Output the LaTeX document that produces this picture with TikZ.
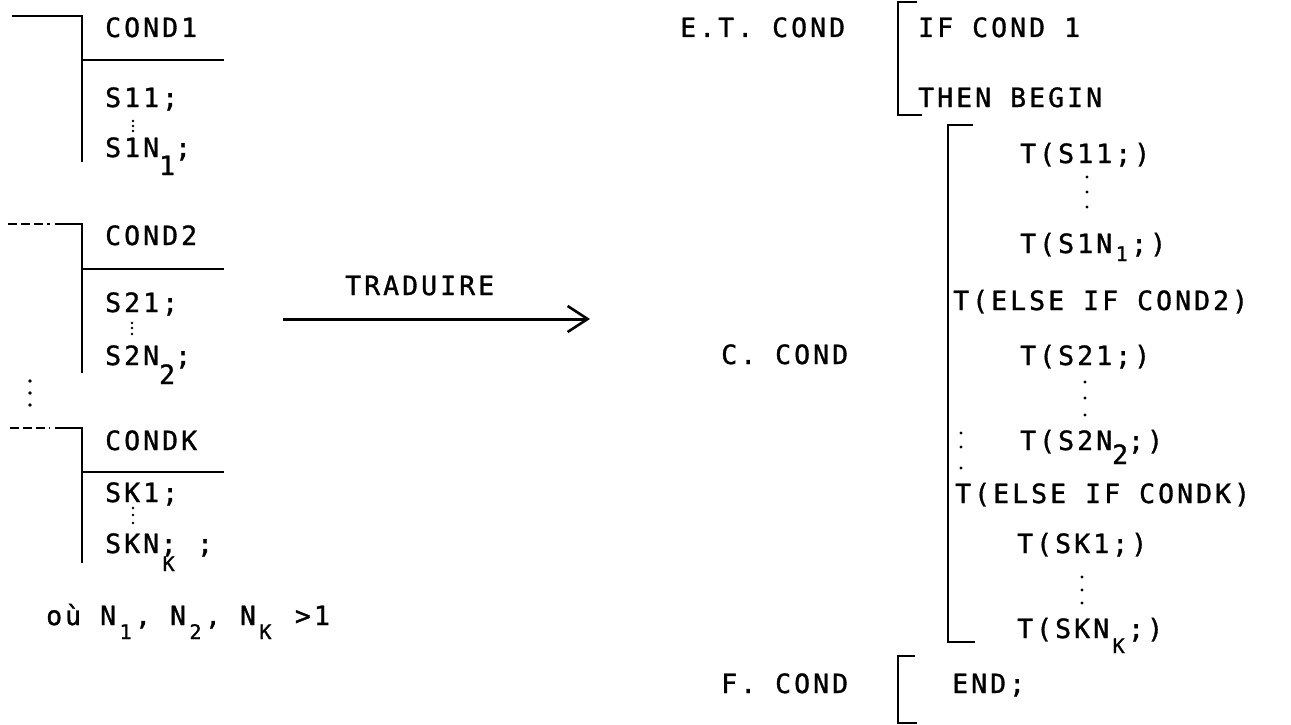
\documentclass[tikz,border=0pt]{standalone}
\usepackage{fontspec}
\setmonofont[LetterSpace=11.5,FakeBold=1.2]{DejaVu Sans Mono}
\usetikzlibrary{arrows.meta}
\newcommand\tw{\fontsize{26.5}{30}\selectfont\ttfamily}
\newcommand\twsmall{\fontsize{20}{24}\selectfont\ttfamily}
% typewriter-style lowered index, full size or reduced
\newcommand\lowsub[2]{\raisebox{-#1pt}{#2}}
\newcommand\lowsubsm[2]{\raisebox{-#1pt}{\twsmall #2}}
% reduced index that still fills one typewriter cell
\newcommand\cellsub[2]{\makebox[19pt][c]{\lowsubsm{#1}{#2}}}

\begin{document}
\begin{tikzpicture}[x=1pt,y=-1pt,
  txt/.style={anchor=base west,inner sep=0pt,font=\tw},
  rule/.style={line width=2.8pt},
  dashrule/.style={line width=2.8pt,dash pattern=on 9pt off 4pt},
  vdot/.style={fill=black},
  conn/.style={line width=3pt,-{Straight Barb[length=20pt,width=26pt,line width=2.6pt]}}]
\fill[white] (0,0) rectangle (1291,725);
\useasboundingbox (0,0) rectangle (1291,725);

% ---- left: nested condition blocks ----
% block 1
\draw[rule] (12,16) -- (82,16) -- (82,162);
\draw[rule] (82,60) -- (224,60);
\node[txt] (cond1) at (105,37) {COND1};
\node[txt] (s11) at (105,107) {S11;};
\node[txt] (s1n) at (105,157) {S1N\lowsub{18}{1};};
\foreach \yy in {121,126,131} \fill[vdot] (133,\yy) circle (1.4pt);

% block 2
\draw[dashrule] (8,224) -- (50,224);
\draw[rule] (55,224) -- (82,224) -- (82,373);
\draw[rule] (82,269) -- (224,269);
\node[txt] (cond2) at (105,245) {COND2};
\node[txt] (s21) at (105,312) {S21;};
\node[txt] (s2n) at (105,365) {S2N\lowsub{19}{2};};
\foreach \yy in {323,328,334} \fill[vdot] (132,\yy) circle (1.4pt);

% continuation between blocks
\foreach \yy in {381,393,405} \fill[vdot] (30,\yy) circle (1.8pt);

% block K
\draw[dashrule] (10,428) -- (50,428);
\draw[rule] (55,428) -- (82,428) -- (82,563);
\draw[rule] (82,472) -- (224,472);
\node[txt] (condk) at (105,450) {CONDK};
\node[txt] (sk1) at (105,502) {SK1;};
\node[txt] (skn) at (105,553) {SKN\rlap{\makebox[19pt][c]{;}}\makebox[19pt][c]{\lowsubsm{18}{K}}\ ;};
\foreach \yy in {508,515,523} \fill[vdot] (133,\yy) circle (1.4pt);

\node[txt] (where) at (46,625) {où N\cellsub{14}{1}, N\cellsub{14}{2}, N\cellsub{14}{K}\hspace{20pt}>1};

% ---- translation arrow ----
\coordinate (arrS) at (283,319);
\coordinate (arrE) at (590,319);
\draw[conn] (arrS) -- (arrE);
\node[txt] (trad) at (345,295) {TRADUIRE};

% ---- right: translated code ----
\node[txt] (et) at (680,37) {E.T. COND};
\draw[rule] (917,2) -- (898,2) -- (898,115) -- (922,115);
\node[txt] (if1) at (918,37) {IF COND 1};
\node[txt] (then) at (918,107) {THEN BEGIN};

\node[txt] (ccond) at (721,364) {C. COND};
\draw[rule] (973,125) -- (948,125) -- (948,642) -- (975,642);
\node[txt] (ts11) at (1020,163) {T(S11;)};
\foreach \yy in {177,192,207} \fill[vdot] (1087,\yy) circle (1.7pt);
\node[txt] (ts1n) at (1020,253) {T(S1N\cellsub{8}{1};)};
\node[txt] (else2) at (953,310) {T(ELSE IF COND2)};
\node[txt] (ts21) at (1020,365) {T(S21;)};
\foreach \yy in {382,398,415} \fill[vdot] (1085,\yy) circle (1.7pt);
\foreach \yy in {433,447,468} \fill[vdot] (961,\yy) circle (1.7pt);
\node[txt] (ts2n) at (1020,450) {T(S2N\lowsub{14}{2};)};
\node[txt] (elsek) at (955,503) {T(ELSE IF CONDK)};
\node[txt] (tsk1) at (1017,553) {T(SK1;)};
\foreach \yy in {577,590,603} \fill[vdot] (1082,\yy) circle (1.7pt);
\node[txt] (tskn) at (1017,638) {T(SKN\cellsub{15}{K};)};

\node[txt] (fcond) at (721,693) {F. COND};
\draw[rule] (915,656) -- (898,656) -- (898,723) -- (917,723);
\node[txt] (endk) at (952,693) {END;};
\end{tikzpicture}
\end{document}
